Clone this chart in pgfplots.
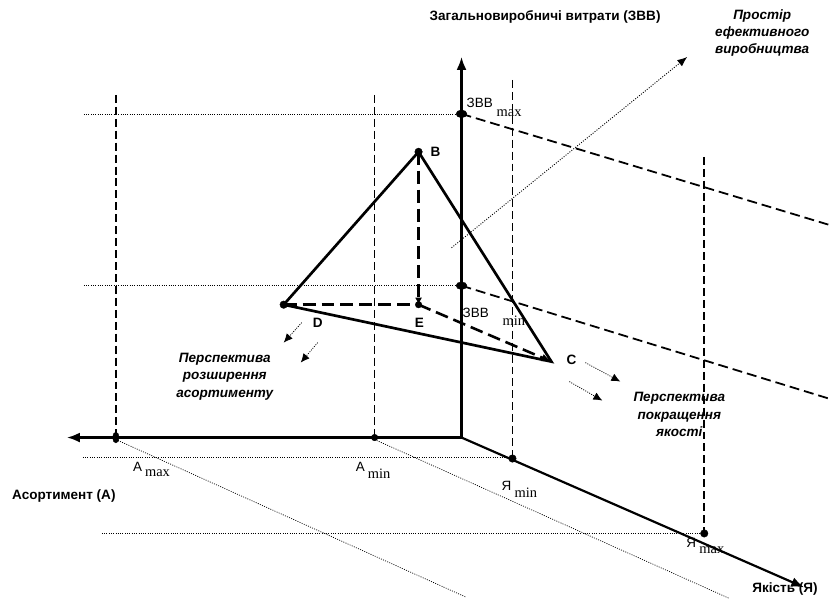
\documentclass[border=0pt]{standalone}
\usepackage{fontspec}
\setmainfont{Liberation Sans}
\newfontfamily\serif{Liberation Serif}
\usepackage{pgfplots}
\pgfplotsset{compat=1.18}
\usetikzlibrary{arrows.meta}

\begin{document}
\begin{tikzpicture}[
    bl/.style={font=\bfseries\fontsize{13.6}{15}\selectfont, anchor=west, inner sep=0pt},
    bi/.style={font=\bfseries\itshape\fontsize{13.6}{17.5}\selectfont, align=center},
    lab/.style={font=\fontsize{13.5}{15}\selectfont, anchor=west, inner sep=0pt},
    sub/.style={font=\serif\fontsize{14.5}{16}\selectfont, anchor=west, inner sep=0pt},
  ]
\begin{axis}[
    width=833bp, height=599bp, scale only axis,
    xmin=0, xmax=833, ymin=0, ymax=599,
    y dir=reverse, hide axis, clip=false,
    axisline/.style={black, mark=none, line width=2.2pt},
    vdash/.style={black, mark=none, line width=1.6pt, dash pattern=on 8pt off 4pt},
    hdash/.style={black, mark=none, line width=1.8pt, dash pattern=on 10pt off 5pt},
    thick dash/.style={black, mark=none, line width=2.6pt, dash pattern=on 13pt off 6pt},
    fine dots/.style={black, mark=none, line width=0.7pt, dash pattern=on 1pt off 1.3pt},
    tri/.style={black, mark=none, line width=2.7pt, line join=miter},
  ]

% keep the full frame in the bounding box
\addplot[draw=none, mark=none] coordinates {(0,0) (833,599)};

% thin dotted guide lines
\addplot[fine dots] coordinates {(84,114) (462,114)};
\addplot[fine dots] coordinates {(84,286) (462,286)};
\addplot[fine dots] coordinates {(83,458) (513,458)};
\addplot[fine dots] coordinates {(102,534) (705,534)};
\addplot[fine dots] coordinates {(116,440) (467,598)};
\addplot[fine dots] coordinates {(375,440) (730,599)};

% vertical dashed lines
\addplot[vdash] coordinates {(116,95) (116,438)};
\addplot[vdash] coordinates {(375,95) (375,438)};
\addplot[vdash] coordinates {(513,80) (513,459)};
\addplot[vdash] coordinates {(705,157) (705,534)};

% slanted dashed planes
\addplot[hdash] coordinates {(462,114) (833,226)};
\addplot[hdash] coordinates {(462,286) (833,400)};

% axes
\addplot[axisline, -{Latex[length=13pt,width=10pt]}] coordinates {(462,438) (462,57)};
\addplot[axisline, -{Latex[length=13pt,width=10pt]}] coordinates {(462,438) (67,438)};
\addplot[axisline, -{Latex[length=13pt,width=10pt]}] coordinates {(462,438) (805,588)};

% space of efficient production
\addplot[black, mark=none, line width=0.9pt, dash pattern=on 1pt off 1.5pt,
  -{Latex[length=10pt,width=8pt]}] coordinates {(452,248) (688,57)};

% triangle
\addplot[tri] coordinates {(284,305) (419,152) (552,362) (284,305)};
\addplot[thick dash, -{Latex[length=7pt,width=7pt]}] coordinates {(419,152) (419,305)};
\addplot[thick dash] coordinates {(284,305) (419,305)};
\addplot[thick dash, -{Latex[length=10pt,width=8pt]}] coordinates {(419,305) (552,362)};

% perspective arrows
\addplot[fine dots, line width=0.8pt, -{Latex[length=9pt,width=8pt]}] coordinates {(302,323) (284,343)};
\addplot[fine dots, line width=0.8pt, -{Latex[length=9pt,width=8pt]}] coordinates {(318,343) (301,363)};
\addplot[fine dots, line width=0.8pt, -{Latex[length=9pt,width=8pt]}] coordinates {(586,363) (621,382)};
\addplot[fine dots, line width=0.8pt, -{Latex[length=9pt,width=8pt]}] coordinates {(570,382) (603,401)};

% points
\addplot[black, only marks, mark=*, mark size=3.8pt] coordinates {
  (419,152) (284,305) (513,459) (705,534)};
\addplot[black, only marks, mark=*, mark size=3.3pt] coordinates {(375,438) (419,305)};
\addplot[black, only marks, mark=*, mark size=5.5pt, mark options={yscale=0.7}] coordinates {(462,114) (462,286)};
\addplot[black, only marks, mark=*, mark size=5.5pt, mark options={xscale=0.6}] coordinates {(116,438)};

% texts
\node[bl] at (axis cs:430,17) {Загальновиробничі витрати (ЗВВ)};
\node[bi] at (axis cs:763,33) {Простір\\ефективного\\виробництва};
\node[bi] at (axis cs:225,377) {Перспектива\\розширення\\асортименту};
\node[bi] at (axis cs:680,415) {Перспектива\\покращення\\якості};
\node[bl] at (axis cs:12,497) {Асортимент (А)};
\node[bl] at (axis cs:753,590) {Якість (Я)};

\node[bl] at (axis cs:431,152) {B};
\node[bl] at (axis cs:313,323) {D};
\node[bl] at (axis cs:415,323) {E};
\node[bl] at (axis cs:567,360) {C};

\node[lab] at (axis cs:467,103) {ЗВВ};
\node[sub] at (axis cs:497,113) {max};
\node[lab] at (axis cs:463,313) {ЗВВ};
\node[sub] at (axis cs:503,321) {min};
\node[lab] at (axis cs:133,467) {А};
\node[sub] at (axis cs:145,474) {max};
\node[lab] at (axis cs:356,467) {А};
\node[sub] at (axis cs:368,474) {min};
\node[lab] at (axis cs:502,486) {Я};
\node[sub] at (axis cs:515,493) {min};
\node[lab] at (axis cs:687,543) {Я};
\node[sub] at (axis cs:700,551) {max};

\end{axis}
\end{tikzpicture}
\end{document}
